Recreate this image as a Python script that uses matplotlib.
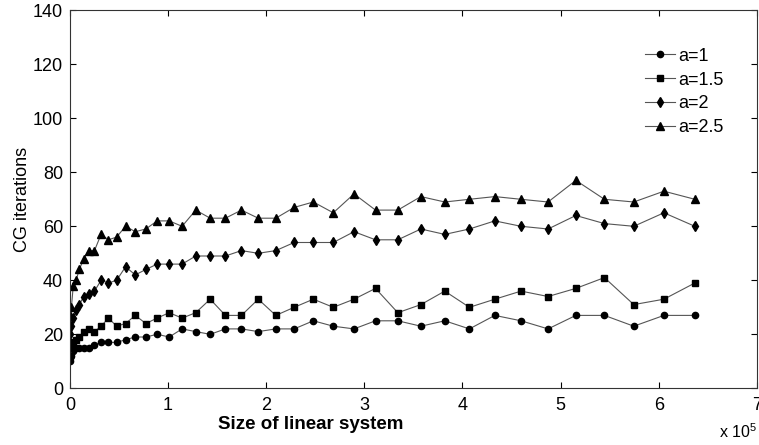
import numpy as np
import matplotlib
matplotlib.use('Agg')
from matplotlib import pyplot as plt
from matplotlib.ticker import FuncFormatter

plt.rcParams['font.family'] = ['Liberation Sans', 'DejaVu Sans']
plt.rcParams['mathtext.fontset'] = 'custom'
plt.rcParams['mathtext.rm'] = 'Liberation Sans'

# problem sizes (unknowns)
sizes = [324, 1444, 3364, 6084, 9604, 13924, 19044, 24964, 31684, 39204,
         47524, 56644, 66564, 77284, 88804, 101124, 114244, 128164, 142884, 158404,
         174724, 191844, 209764, 228484, 248004, 268324, 289444, 311364, 334084, 357604,
         381924, 407044, 432964, 459684, 487204, 515524, 544644, 574564, 605284, 636804]

# CG iterations for each a
it_a1 = [10, 12, 14, 15, 15, 15, 15, 16, 17, 17, 17, 18, 19, 19, 20, 19, 22, 21, 20, 22,
         22, 21, 22, 22, 25, 23, 22, 25, 25, 23, 25, 22, 27, 25, 22, 27, 27, 23, 27, 27]
it_a15 = [12, 15, 17, 18, 19, 21, 22, 21, 23, 26, 23, 24, 27, 24, 26, 28, 26, 28, 33, 27,
          27, 33, 27, 30, 33, 30, 33, 37, 28, 31, 36, 30, 33, 36, 34, 37, 41, 31, 33, 39]
it_a2 = [20, 23, 26, 29, 31, 34, 35, 36, 40, 39, 40, 45, 42, 44, 46, 46, 46, 49, 49, 49,
         51, 50, 51, 54, 54, 54, 58, 55, 55, 59, 57, 59, 62, 60, 59, 64, 61, 60, 65, 60]
it_a25 = [27, 30, 38, 40, 44, 48, 51, 51, 57, 55, 56, 60, 58, 59, 62, 62, 60, 66, 63, 63,
          66, 63, 63, 67, 69, 65, 72, 66, 66, 71, 69, 70, 71, 70, 69, 77, 70, 69, 73, 70]

labels = ['a=1', 'a=1.5', 'a=2', 'a=2.5']
markers = ['o', 's', 'd', '^']
msizes = [4.5, 4.8, 5.0, 5.2]

fig = plt.figure(figsize=(7.59, 4.45), dpi=100)
ax = fig.add_axes([0.0922, 0.1274, 0.905, 0.8495])

for y, lab, m, ms in zip([it_a1, it_a15, it_a2, it_a25], labels, markers, msizes):
    ax.plot(sizes, y, color='#555555', lw=0.8, marker=m, ms=ms,
            mfc='black', mec='black', label=lab)

ax.set_xlim(0, 7e5)
ax.set_ylim(0, 140)
ax.set_xticks(np.arange(0, 7.01e5, 1e5))
ax.set_yticks(np.arange(0, 141, 20))
ax.xaxis.set_major_formatter(FuncFormatter(lambda v, p: '%d' % round(v / 1e5)))
ax.tick_params(direction='in', length=4.5, width=0.8, top=True, right=True,
               labelsize=13, colors='black')
ax.tick_params(axis='x', pad=6)
ax.tick_params(axis='y', pad=5)
for s in ax.spines.values():
    s.set_linewidth(0.8)
    s.set_color('#333333')

ax.set_ylabel('CG iterations', fontsize=13, labelpad=1)
ax.set_xlabel('Size of linear system', fontsize=13.5, fontweight='bold')
ax.xaxis.set_label_coords(0.35, -0.073, transform=ax.transAxes)
ax.xaxis.label.set_va('top')
ax.text(1.0, -0.09, r'x 10$^{5}$', transform=ax.transAxes, fontsize=11.5,
        ha='right', va='top')

leg = ax.legend(loc='upper right', bbox_to_anchor=(0.962, 0.92), frameon=False,
                fontsize=13, handlelength=1.7, handletextpad=0.15,
                labelspacing=0.38, borderaxespad=0)

fig.savefig('out.png', dpi=100)
